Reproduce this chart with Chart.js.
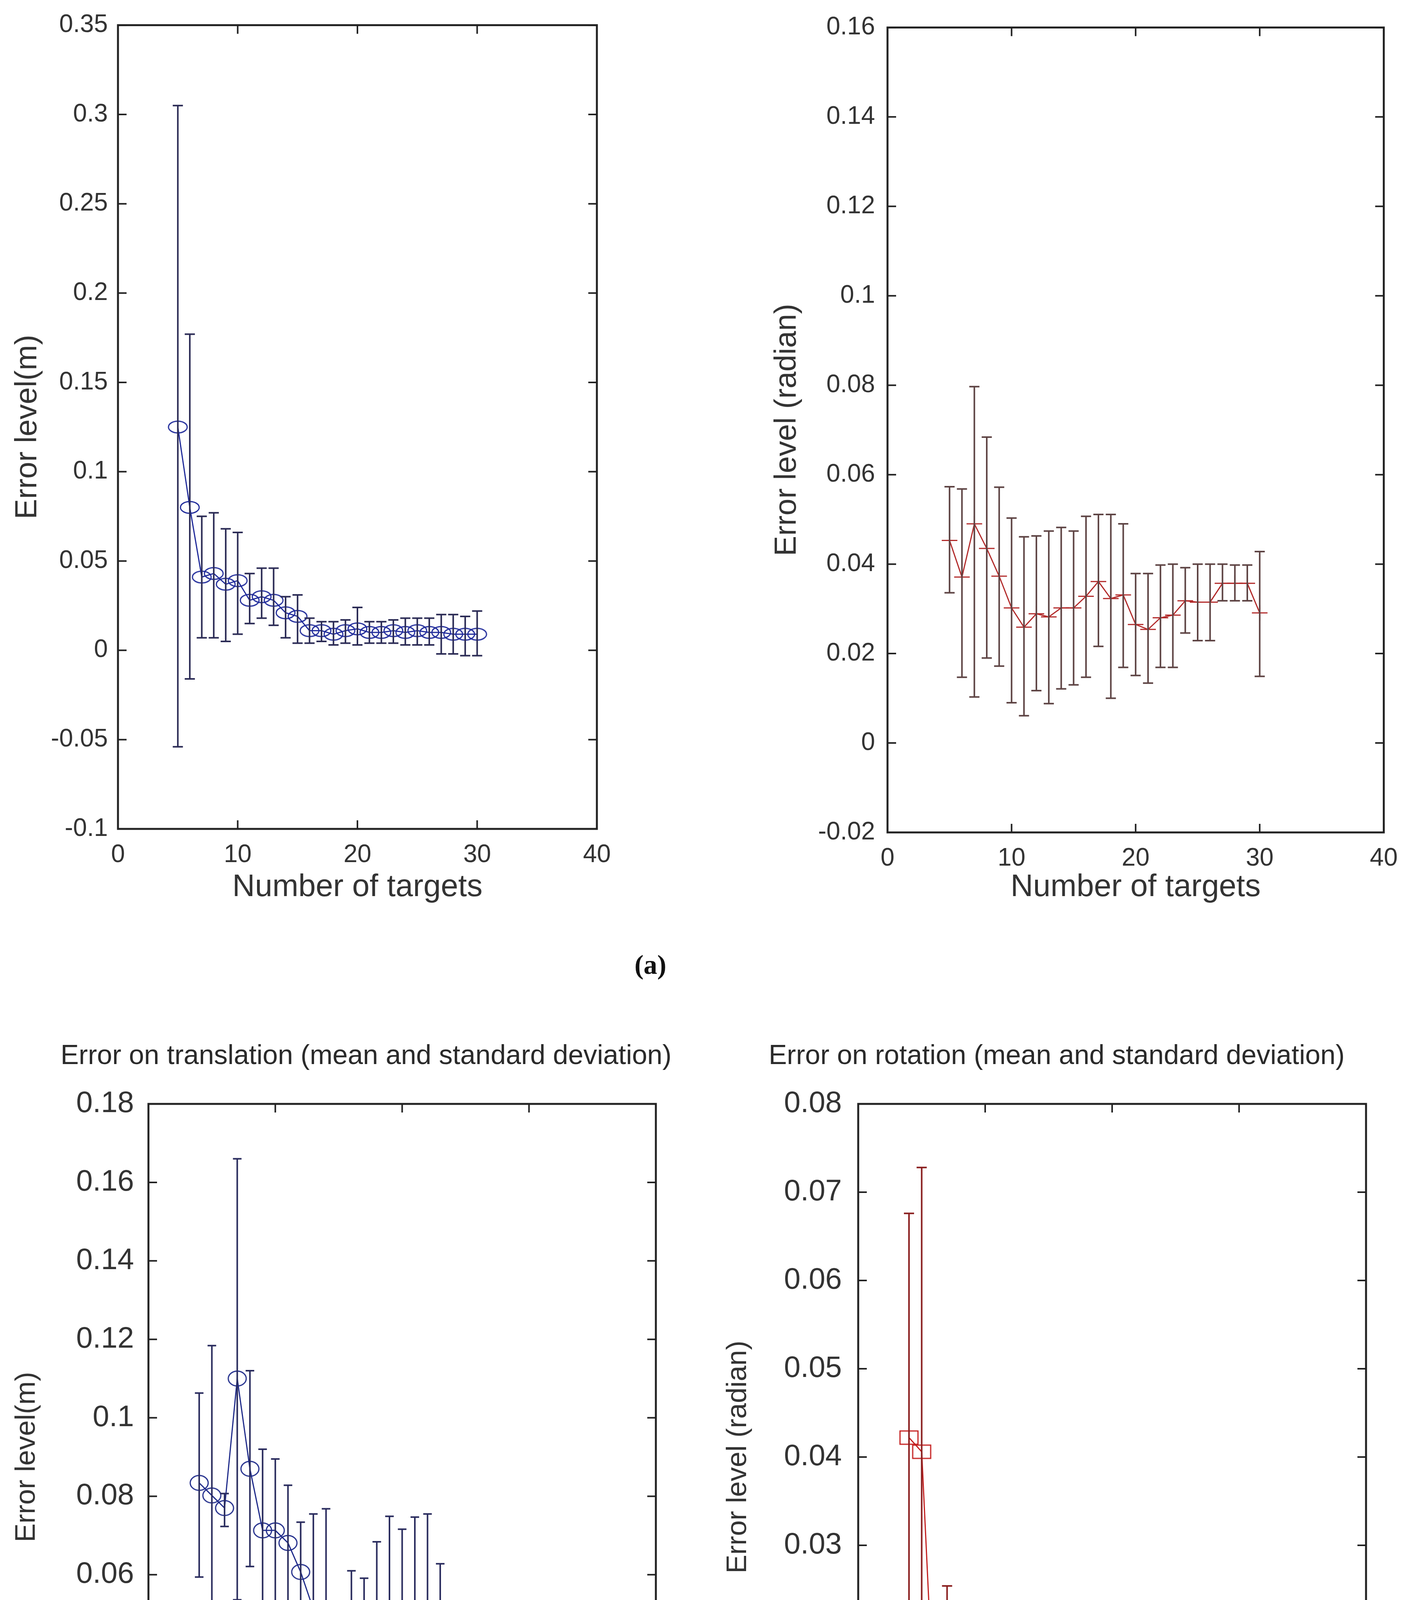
<!DOCTYPE html>
<html>
<head>
<meta charset="utf-8">
<script src="https://cdn.jsdelivr.net/npm/chart.js@4.4.1/dist/chart.umd.min.js"></script>
<style>
body { margin: 0; background: #fff; width: 3607px; height: 4998px; position: relative; overflow: hidden; }
canvas { position: absolute; }
.lab { position: absolute; font-family: "Liberation Serif", "DejaVu Serif", serif; font-weight: bold; font-size: 70px; color: #111; transform: translate(-50%, -50%); }
</style>
</head>
<body>
<canvas id="transA"></canvas>
<canvas id="rotA"></canvas>
<canvas id="transB"></canvas>
<canvas id="rotB"></canvas>
<div class="lab" style="left:1665px; top:2470px;">(a)</div>
<div class="lab" style="left:1665px; top:4938px;">(b)</div>
<script>
// number of targets
var targetsA = [5, 6, 7, 8, 9, 10, 11, 12, 13, 14, 15, 16, 17, 18, 19, 20, 21, 22, 23, 24, 25, 26, 27, 28, 29, 30];
var targetsB = [4, 5, 6, 7, 8, 9, 10, 11, 12, 13, 14, 15, 16, 17, 18, 19, 20, 21, 22, 23, 24, 25, 26, 27, 28, 29, 30];

// (a) translation error (m): mean, bottom and top of error bar
var transMeanA = [0.125, 0.080, 0.041, 0.043, 0.037, 0.039, 0.028, 0.030, 0.028, 0.021, 0.019, 0.011, 0.011, 0.009, 0.011, 0.012, 0.010, 0.010, 0.011, 0.010, 0.011, 0.010, 0.010, 0.009, 0.009, 0.009];
var transLowA = [-0.054, -0.016, 0.007, 0.007, 0.005, 0.009, 0.015, 0.018, 0.014, 0.007, 0.004, 0.004, 0.005, 0.003, 0.004, 0.003, 0.004, 0.004, 0.004, 0.003, 0.003, 0.003, -0.002, -0.002, -0.003, -0.003];
var transHighA = [0.305, 0.177, 0.075, 0.077, 0.068, 0.066, 0.043, 0.046, 0.046, 0.030, 0.031, 0.018, 0.016, 0.016, 0.017, 0.024, 0.016, 0.016, 0.017, 0.018, 0.018, 0.018, 0.020, 0.020, 0.019, 0.022];

// (a) rotation error (radian)
var rotMeanA = [0.0453, 0.0371, 0.0490, 0.0435, 0.0373, 0.0302, 0.0259, 0.0289, 0.0282, 0.0302, 0.0302, 0.0328, 0.0361, 0.0323, 0.0331, 0.0265, 0.0254, 0.0280, 0.0286, 0.0318, 0.0315, 0.0315, 0.0357, 0.0357, 0.0357, 0.0291];
var rotLowA = [0.0336, 0.0147, 0.0103, 0.0190, 0.0172, 0.0090, 0.0061, 0.0117, 0.0088, 0.0121, 0.0130, 0.0147, 0.0216, 0.0100, 0.0169, 0.0151, 0.0134, 0.0169, 0.0169, 0.0246, 0.0229, 0.0229, 0.0318, 0.0318, 0.0318, 0.0149];
var rotHighA = [0.0573, 0.0568, 0.0797, 0.0684, 0.0572, 0.0503, 0.0461, 0.0463, 0.0474, 0.0482, 0.0474, 0.0507, 0.0511, 0.0511, 0.0490, 0.0379, 0.0379, 0.0398, 0.0400, 0.0392, 0.0400, 0.0400, 0.0400, 0.0398, 0.0398, 0.0428];

// (b) translation error (m)
var transMeanB = [0.0834, 0.0802, 0.0770, 0.110, 0.0870, 0.0713, 0.0713, 0.0681, 0.0607, 0.0512, 0.0502, 0.0365, 0.0423, 0.0433, 0.0455, 0.0470, 0.0460, 0.0460, 0.0460, 0.0418, 0.0491, 0.0475, 0.0455, 0.0449, 0.0404, 0.0376, 0.0410];
var transLowB = [0.0594, 0.0415, 0.0723, 0.0536, 0.0621, 0.0502, 0.0525, 0.0528, 0.0479, 0.0270, 0.0233, 0.0191, 0.0242, 0.0267, 0.0233, 0.0189, 0.0210, 0.0175, 0.0168, 0.0207, 0.0480, 0.0415, 0.0413, 0.0391, 0.0390, 0.0294, 0.0395];
var transHighB = [0.1063, 0.1184, 0.0807, 0.166, 0.112, 0.092, 0.0895, 0.0828, 0.0734, 0.0755, 0.0768, 0.0533, 0.0610, 0.0591, 0.0684, 0.0749, 0.0716, 0.0747, 0.0755, 0.0628, 0.0500, 0.0526, 0.0502, 0.0502, 0.0420, 0.0452, 0.0425];

// (b) rotation error (radian)
var rotMeanB = [0.0422, 0.0406, 0.0103, 0.0178, 0.0118, 0.0079, 0.0076, 0.0092, 0.0092, 0.0090, 0.0085, 0.0074, 0.0072, 0.0074, 0.0077, 0.0081, 0.0085, 0.0088, 0.0094, 0.0090, 0.0088, 0.0090, 0.0090, 0.0088, 0.0085, 0.0079, 0.0083];
var rotLowB = [0.0171, 0.0083, 0.0031, 0.0103, 0.0075, 0.0039, 0.0041, 0.0086, 0.0086, 0.0084, 0.0057, 0.0038, 0.0041, 0.0041, 0.0057, 0.0062, 0.0066, 0.0064, 0.0057, 0.0048, 0.0035, 0.0040, 0.0040, 0.0041, 0.0043, 0.0013, 0.0043];
var rotHighB = [0.0676, 0.0728, 0.0174, 0.0254, 0.0160, 0.0114, 0.0107, 0.0098, 0.0098, 0.0097, 0.0112, 0.0105, 0.0105, 0.0105, 0.0096, 0.0100, 0.0102, 0.0129, 0.0134, 0.0140, 0.0141, 0.0141, 0.0140, 0.0134, 0.0123, 0.0132, 0.0123];

// tick labels
var xTicks = [0, 10, 20, 30, 40];
var yTicksTransA = [-0.1, -0.05, 0, 0.05, 0.1, 0.15, 0.2, 0.25, 0.3, 0.35];
var yTicksRotA = [-0.02, 0, 0.02, 0.04, 0.06, 0.08, 0.1, 0.12, 0.14, 0.16];
var yTicksTransB = [0, 0.02, 0.04, 0.06, 0.08, 0.1, 0.12, 0.14, 0.16, 0.18];
var yTicksRotB = [0, 0.01, 0.02, 0.03, 0.04, 0.05, 0.06, 0.07, 0.08];

Chart.defaults.font.family = '"Liberation Sans", Arial, sans-serif';

// hollow marker drawn once, used as pointStyle
function marker(w, h, color, lw, shape) {
	var c = document.createElement('canvas');
	c.width = w + lw * 2;
	c.height = h + lw * 2;
	var g = c.getContext('2d');
	g.strokeStyle = color;
	g.lineWidth = lw;
	if (shape == 'rect') {
		g.strokeRect(lw, lw, w, h);
	} else {
		g.beginPath();
		g.ellipse(c.width / 2, c.height / 2, w / 2, h / 2, 0, 0, Math.PI * 2);
		g.stroke();
	}
	return c;
}

// vertical error bars with caps
var errorBars = {
	id: 'errorBars',
	afterDatasetsDraw: function(chart) {
		var ctx = chart.ctx;
		var xs = chart.scales.x, ys = chart.scales.y;
		chart.data.datasets.forEach(function(ds) {
			if (!ds.errLow) return;
			ctx.save();
			ctx.strokeStyle = ds.barColor;
			ctx.lineWidth = 4;
			for (var i = 0; i < ds.data.length; i++) {
				var x = xs.getPixelForValue(ds.data[i].x);
				var y1 = ys.getPixelForValue(ds.errLow[i]);
				var y2 = ys.getPixelForValue(ds.errHigh[i]);
				var c = ds.capHalf;
				ctx.beginPath();
				ctx.moveTo(x, y1); ctx.lineTo(x, y2);
				ctx.moveTo(x - c, y1); ctx.lineTo(x + c, y1);
				ctx.moveTo(x - c, y2); ctx.lineTo(x + c, y2);
				ctx.stroke();
			}
			ctx.restore();
		});
	}
};

// matlab style box with inward ticks on all sides
var boxAxes = {
	id: 'boxAxes',
	afterDraw: function(chart) {
		var ctx = chart.ctx, a = chart.chartArea;
		var xs = chart.scales.x, ys = chart.scales.y;
		var t = 22;
		ctx.save();
		ctx.strokeStyle = '#222';
		ctx.lineWidth = 4;
		ctx.beginPath();
		xs.ticks.forEach(function(tk) {
			var x = xs.getPixelForValue(tk.value);
			ctx.moveTo(x, a.bottom); ctx.lineTo(x, a.bottom - t);
			ctx.moveTo(x, a.top); ctx.lineTo(x, a.top + t);
		});
		ys.ticks.forEach(function(tk) {
			var y = ys.getPixelForValue(tk.value);
			ctx.moveTo(a.left, y); ctx.lineTo(a.left + t, y);
			ctx.moveTo(a.right, y); ctx.lineTo(a.right - t, y);
		});
		ctx.stroke();
		ctx.lineWidth = 5;
		ctx.strokeRect(a.left, a.top, a.right - a.left, a.bottom - a.top);
		ctx.restore();
	}
};

function panel(id, g, targets, mean, low, high, yTicks, yLabel, title, look) {
	var cv = document.getElementById(id);
	cv.width = g.w;
	cv.height = g.h;
	cv.style.left = g.left + 'px';
	cv.style.top = g.top + 'px';
	cv.style.width = g.w + 'px';
	cv.style.height = g.h + 'px';

	var points = [];
	for (var i = 0; i < targets.length; i++) {
		points.push({ x: targets[i], y: mean[i] });
	}

	new Chart(cv, {
		type: 'line',
		data: {
			datasets: [{
				data: points,
				errLow: low,
				errHigh: high,
				barColor: look.bar,
				capHalf: look.cap,
				borderColor: look.line,
				borderWidth: 3,
				tension: 0,
				fill: false,
				pointStyle: look.point,
				pointRadius: look.radius,
				pointBorderColor: look.line,
				pointBackgroundColor: 'rgba(0,0,0,0)',
				pointBorderWidth: 3
			}]
		},
		options: {
			responsive: false,
			animation: false,
			devicePixelRatio: 1,
			layout: { padding: { top: g.padTop, right: 0, bottom: 0, left: 0 } },
			plugins: {
				legend: { display: false },
				tooltip: { enabled: false },
				title: {
					display: !!title,
					text: title,
					color: '#2a2a2a',
					font: { size: 70, weight: 'normal' },
					padding: { top: 0, bottom: g.titleGap }
				}
			},
			scales: {
				x: {
					type: 'linear',
					min: 0,
					max: 40,
					afterBuildTicks: function(s) { s.ticks = xTicks.map(function(v) { return { value: v }; }); },
					afterFit: function(s) { s.height = g.xAxisH; },
					grid: { display: false, drawTicks: false },
					border: { display: false },
					ticks: { color: '#333', font: { size: g.tickSize }, padding: g.xPad, maxRotation: 0 },
					title: { display: true, text: g.xLabel, color: '#333', font: { size: g.xTitleSize }, padding: 0 }
				},
				y: {
					min: yTicks[0],
					max: yTicks[yTicks.length - 1],
					afterBuildTicks: function(s) { s.ticks = yTicks.map(function(v) { return { value: v }; }); },
					afterFit: function(s) { s.width = g.yAxisW; },
					grid: { display: false, drawTicks: false },
					border: { display: false },
					ticks: { color: '#333', font: { size: g.tickSize }, padding: g.yPad, callback: function(v) { return String(v); } },
					title: { display: true, text: yLabel, color: '#333', font: { size: g.yTitleSize }, padding: 0 }
				},
				// empty right margin, so the title centres over the whole figure cell
				margin: {
					position: 'right',
					afterFit: function(s) { s.width = g.padRight; },
					grid: { display: false, drawTicks: false },
					border: { display: false },
					ticks: { display: false }
				}
			}
		},
		plugins: [errorBars, boxAxes]
	});
}

panel('transA',
	{ left: 25, top: 0, w: 1593, h: 2320, padTop: 51, padRight: 90, titleGap: 0, xAxisH: 198, yAxisW: 277,
	  tickSize: 64, xPad: 29, yPad: 26, xTitleSize: 80, yTitleSize: 78, xLabel: 'Number of targets' },
	targetsA, transMeanA, transLowA, transHighA, yTicksTransA, 'Error level(m)', '',
	{ bar: '#2b2b55', line: '#1f2a9a', cap: 13, point: marker(48, 30, '#1f2a9a', 3, 'ellipse'), radius: 24 });

panel('rotA',
	{ left: 1969, top: 0, w: 1638, h: 2320, padTop: 64, padRight: 36, titleGap: 0, xAxisH: 189, yAxisW: 303,
	  tickSize: 64, xPad: 29, yPad: 32, xTitleSize: 80, yTitleSize: 78, xLabel: 'Number of targets' },
	targetsA, rotMeanA, rotLowA, rotHighA, yTicksRotA, 'Error level (radian)', '',
	{ bar: '#5e4444', line: '#b22a2a', cap: 13, point: 'cross', radius: 20 });

panel('transB',
	{ left: 26, top: 2663, w: 1822, h: 2169, padTop: 0, padRight: 169, titleGap: 79, xAxisH: 198, yAxisW: 354,
	  tickSize: 76, xPad: 22, yPad: 37, xTitleSize: 80, yTitleSize: 72, xLabel: 'number of targets' },
	targetsB, transMeanB, transLowB, transHighB, yTicksTransB, 'Error level(m)', 'Error on translation (mean and standard deviation)',
	{ bar: '#2a2c5e', line: '#1e2a8a', cap: 11, point: marker(46, 38, '#1e2a8a', 3, 'ellipse'), radius: 23 });

panel('rotB',
	{ left: 1847, top: 2663, w: 1716, h: 2169, padTop: 0, padRight: 66, titleGap: 79, xAxisH: 198, yAxisW: 350,
	  tickSize: 76, xPad: 22, yPad: 42, xTitleSize: 80, yTitleSize: 72, xLabel: 'number of targets' },
	targetsB, rotMeanB, rotLowB, rotHighB, yTicksRotB, 'Error level (radian)', 'Error on rotation (mean and standard deviation)',
	{ bar: '#8a1f1f', line: '#c41e1e', cap: 13, point: marker(46, 34, '#c41e1e', 3, 'rect'), radius: 23 });
</script>
</body>
</html>
